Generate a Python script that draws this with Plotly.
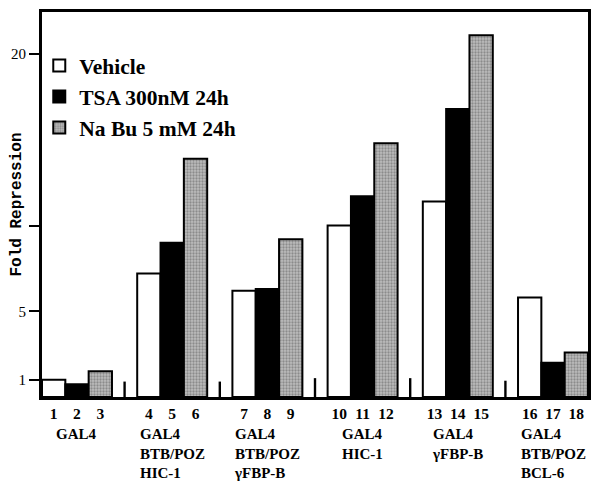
import plotly.graph_objects as go

# ---- data ----
group_labels = ["GAL4", "GAL4<br>BTB/POZ<br>HIC-1", "GAL4<br>BTB/POZ<br>γFBP-B",
                "GAL4<br>HIC-1", "GAL4<br>γFBP-B", "GAL4<br>BTB/POZ<br>BCL-6"]
series_names = ["Vehicle", "TSA 300nM 24h", "Na Bu 5 mM 24h"]
vehicle = [1.0, 7.2, 6.2, 10.0, 11.4, 5.8]
tsa = [0.75, 9.0, 6.3, 11.7, 16.8, 2.0]
nabu = [1.5, 13.9, 9.2, 14.8, 21.1, 2.6]
lane_labels = [str(i) for i in range(1, 19)]
separator_heights = [0.9, 0.9, 1.1, 1.1, 0.95]
y_tick_vals = [1, 5, 10, 20]
y_tick_text = ["1", "5", "", "20"]

SERIF = "Liberation Serif"
n_groups = len(group_labels)
gx = list(range(n_groups))
W = 0.245
offsets = [-1.5 * W, -0.5 * W, 0.5 * W]

fig = go.Figure()
styles = [
    dict(color="white", line=dict(color="black", width=2)),
    dict(color="black", line=dict(color="black", width=2)),
    dict(color="#a8a8a8", line=dict(color="black", width=2),
         pattern=dict(shape=".", fgcolor="#5a5a5a", bgcolor="#bdbdbd", size=3, solidity=0.45)),
]
for name, vals, off, st in zip(series_names, [vehicle, tsa, nabu], offsets, styles):
    fig.add_trace(go.Bar(x=gx, y=vals, name=name, width=W, offset=off, marker=st))

# small separators between groups
fig.add_trace(go.Bar(x=[g + 0.5 for g in gx[:-1]], y=separator_heights, width=0.025,
                     offset=-0.0125, marker=dict(color="black", line=dict(width=0)),
                     showlegend=False, hoverinfo="skip"))

tickvals = [g + off + W / 2 for g in gx for off in offsets]

for g, lab in zip(gx, group_labels):
    fig.add_annotation(x=g, y=0, xref="x", yref="paper", yanchor="top", xanchor="center",
                       yshift=-27, text=lab, showarrow=False, align="left",
                       font=dict(family=SERIF, size=15, color="black", weight="bold"))

# page body adds an 8px offset; margins compensate so the plot lands where the reference has it
fig.update_layout(
    barmode="overlay",
    width=612, height=483,
    margin=dict(l=34, r=32, t=4, b=94),
    plot_bgcolor="white", paper_bgcolor="white",
    showlegend=True,
    legend=dict(x=-0.005, y=0.914, xanchor="left", yanchor="top",
                font=dict(family=SERIF, size=21.5, color="black", weight="bold"),
                bgcolor="rgba(0,0,0,0)", tracegroupgap=0),
    xaxis=dict(range=[-0.5 + (1 - 3 * W) / 2, n_groups - 0.5 - (1 - 3 * W) / 2],
               tickmode="array", tickvals=tickvals, ticktext=lane_labels,
               ticks="", showgrid=False, zeroline=False, automargin=False,
               showline=True, linecolor="black", linewidth=3, mirror=True,
               tickfont=dict(family=SERIF, size=15.5, color="black", weight="bold")),
    yaxis=dict(range=[0, 22.45], tickmode="array", tickvals=y_tick_vals, ticktext=y_tick_text,
               ticks="outside", ticklen=10, tickwidth=2, tickcolor="black",
               showgrid=False, zeroline=False, automargin=False,
               showline=True, linecolor="black", linewidth=3, mirror=True,
               tickfont=dict(family=SERIF, size=15, color="black"),
               title=dict(text="Fold Repression", standoff=0,
                          font=dict(family="Liberation Mono", size=16, color="black", weight="bold"))),
)

fig.write_html("out.html")
